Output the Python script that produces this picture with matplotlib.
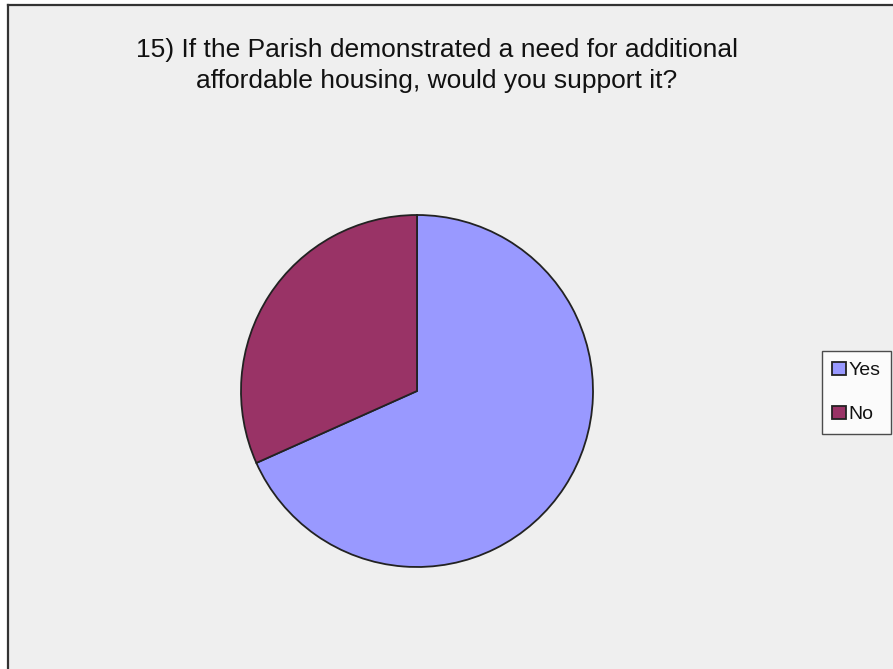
import matplotlib
matplotlib.use("Agg")
import matplotlib.pyplot as plt
from matplotlib.patches import Rectangle

categories = ["Yes", "No"]
values = [68.3, 31.7]
colors = ["#9999FF", "#993366"]
title = "15) If the Parish demonstrated a need for additional\naffordable housing, would you support it?"

W, H = 893, 669
fig = plt.figure(figsize=(W / 100, H / 100), dpi=100)
fig.patch.set_facecolor("#EFEFEF")

# white margins outside the chart area, and border (open on right/bottom)
fig.add_artist(Rectangle((0, 0), 8 / W, 1, transform=fig.transFigure,
                         facecolor="white", edgecolor="none", zorder=0))
fig.add_artist(Rectangle((0, 1 - 5 / H), 1, 5 / H, transform=fig.transFigure,
                         facecolor="white", edgecolor="none", zorder=0))
fig.add_artist(plt.Line2D([8 / W, 8 / W], [0, 1 - 5 / H], color="#333333", lw=1.6,
                          transform=fig.transFigure))
fig.add_artist(plt.Line2D([8 / W, 1], [1 - 5 / H, 1 - 5 / H], color="#333333", lw=1.6,
                          transform=fig.transFigure))

cx, cy, r = 417, 391, 176
ax = fig.add_axes([(cx - r) / W, 1 - (cy + r) / H, 2 * r / W, 2 * r / H], zorder=3)
ax.set_facecolor("none")
wedges, _ = ax.pie(values, colors=colors, startangle=90, counterclock=False,
                   wedgeprops=dict(edgecolor="#222222", linewidth=1.3))
ax.set_xlim(-1.0, 1.0)
ax.set_ylim(-1.0, 1.0)
ax.set_aspect("auto")
ax.axis("off")

fig.text(437 / W, 1 - 65.5 / H, title, ha="center", va="center", fontsize=19,
         family="Liberation Sans", color="#111111", linespacing=1.42)

leg = fig.legend(wedges, categories, loc="center", bbox_to_anchor=(856.5 / W, 1 - 392.5 / H),
                 prop=dict(family="Liberation Sans", size=14), frameon=True, fancybox=False,
                 handlelength=0.7, handleheight=0.7, handletextpad=0.15, labelspacing=1.35,
                 borderpad=0.55, borderaxespad=0, labelcolor="#111111")
leg.get_frame().set_edgecolor("#222222")
leg.get_frame().set_facecolor("white")
leg.get_frame().set_linewidth(1.0)

fig.savefig("out.png", dpi=100)
